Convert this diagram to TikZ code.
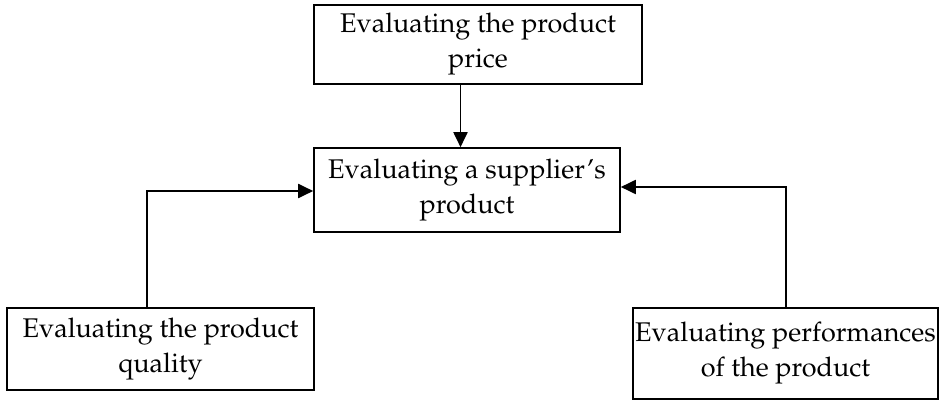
\documentclass[tikz,border=0pt]{standalone}
\usepackage[T1]{fontenc}
\usepackage{mathpazo}
\usepackage{tikz}
\usetikzlibrary{arrows.meta}

\tikzset{evalbox/.style={draw,line width=1.6pt,align=center,inner sep=0pt,
  font=\fontsize{27}{35}\selectfont}}

\begin{document}
\begin{tikzpicture}[x=1pt,y=-1pt,>={Triangle[length=15pt,width=14pt]}]

\useasboundingbox (0,0) rectangle (939,401);

% boxes
\draw (478,44.5) node (price) [evalbox,minimum width=328pt,minimum height=79pt] {Evaluating the product\\price};
\draw (467,190) node (supp) [evalbox,minimum width=306pt,minimum height=84pt] {Evaluating a supplier's\\product};
\draw (160.5,349) node (qual) [evalbox,minimum width=307pt,minimum height=82pt] {Evaluating the product\\quality};
\draw (785.5,353.5) node (perf) [evalbox,minimum width=305pt,minimum height=91pt] {Evaluating performances\\of the product};

% where the connectors run
\coordinate (ax) at (460.5,0);
\coordinate (lx) at (147,191);
\coordinate (rx) at (786,187);

% connectors
\draw[->,line width=1.9pt] (price.south -| ax) -- (supp.north -| ax);
\draw[->,line width=1.9pt] (qual.north -| lx) |- (supp.west |- lx);
\draw[->,line width=1.9pt] (perf.north -| rx) |- (supp.east |- rx);
\end{tikzpicture}
\end{document}
